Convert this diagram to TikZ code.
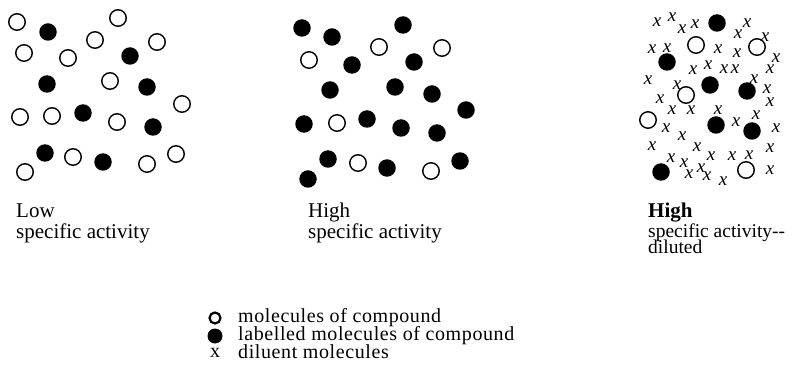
\documentclass[tikz,border=0pt]{standalone}
\usepackage{fontspec}
\setmainfont{Liberation Serif}
\newfontfamily\legfont[LetterSpace=3]{Liberation Serif}
\begin{document}
\begin{tikzpicture}[x=1pt,y=-1pt,
  opn/.style={circle,draw,line width=1.4pt,minimum size=16.5pt,inner sep=0pt},
  fil/.style={circle,fill,minimum size=17.5pt,inner sep=0pt},
  dil/.style={inner sep=0pt,font=\fontsize{19}{19}\selectfont\itshape},
  lbl/.style={anchor=base west,inner sep=0pt,font=\fontsize{21}{21}\selectfont},
  leg/.style={anchor=base west,inner sep=0pt,font=\fontsize{20}{20}\selectfont\legfont}]
\useasboundingbox (0,0) rectangle (795,366);
% panel 1
\foreach \x/\y [count=\i] in {17/22,118/18,95/40,157/42,24/53,68/58,110/81,182/104,20/117,52/116,117/122,73/157,147/164,176/154,25/172}
  \node[opn] (ao\i) at (\x,\y) {};
\foreach \x/\y [count=\i] in {48/32,130/56,47/84,147/87,83/113,153/127,45/153,103/162}
  \node[fil] (af\i) at (\x,\y) {};
% panel 2
\foreach \x/\y [count=\i] in {302/28,332/37,403/25,352/65,414/62,330/90,395/87,432/94,466/110,304/124,367/119,401/128,437/133,328/159,387/168,460/161,308/179}
  \node[fil] (bf\i) at (\x,\y) {};
\foreach \x/\y [count=\i] in {379/47,442/48,309/60,337/123,358/163,431/171}
  \node[opn] (bo\i) at (\x,\y) {};
% panel 3
\foreach \x/\y [count=\i] in {717/23,667/62,710/85,747/91,716/125,752/131,661/172}
  \node[fil] (cf\i) at (\x,\y) {};
\foreach \x/\y [count=\i] in {696/45,757/47,686/95,648/120,746/170}
  \node[opn] (co\i) at (\x,\y) {};
\foreach \x/\y [count=\i] in {657/22,672/17,682/29,695/24,747/23,738/34,765/37,652/49,667/48,718/49,737/53,776/58,693/70,708/65,724/69,735/69,770/69,648/80,677/85,754/79,767/89,660/99,770/102,672/110,691/110,718/110,756/115,736/122,666/128,682/136,776/128,652/146,697/147,770/148,671/158,684/163,711/156,732/156,749/155,689/174,701/168,707/176,723/181,770/170}
  \node[dil] (cx\i) at (\x,\y) {x};
% labels
\node[lbl] (l1a) at (16,218) {Low};
\node[lbl] (l1b) at (16,238) {specific activity};
\node[lbl] (l2a) at (308,218) {High};
\node[lbl] (l2b) at (308,238) {specific activity};
\node[lbl,font=\fontsize{21}{21}\selectfont\bfseries] (l3a) at (648,218) {High};
\node[lbl,font=\fontsize{19.5}{19.5}\selectfont] (l3b) at (648,237) {specific activity-{}-};
\node[lbl,font=\fontsize{19.5}{19.5}\selectfont] (l3c) at (648,254) {diluted};
% legend
\node[circle,draw,line width=2.2pt,minimum size=11pt,inner sep=0pt] (k1) at (215,318) {};
\node[circle,fill,minimum size=15pt,inner sep=0pt] (k2) at (215,336) {};
\node[inner sep=0pt,font=\fontsize{20}{20}\selectfont] (k3) at (215,353) {x};
\node[leg] (t1) at (238,322) {molecules of compound};
\node[leg] (t2) at (238,340) {labelled molecules of compound};
\node[leg] (t3) at (238,358) {diluent molecules};
\end{tikzpicture}
\end{document}
